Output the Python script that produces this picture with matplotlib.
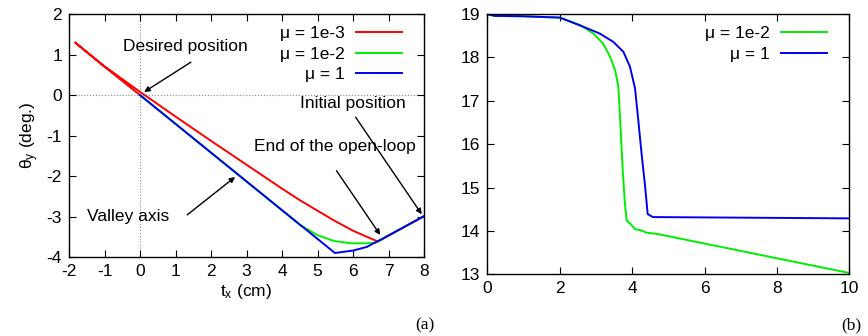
import matplotlib
matplotlib.use("Agg")
import matplotlib.pyplot as plt

plt.rcParams['font.family'] = ['Liberation Sans', 'DejaVu Sans']
plt.rcParams['mathtext.fontset'] = 'custom'
plt.rcParams['mathtext.rm'] = 'Liberation Sans'
plt.rcParams['mathtext.it'] = 'Liberation Sans'
plt.rcParams['axes.unicode_minus'] = False

# Panel (a): trajectories in (t_x, theta_y)
red_x = [8.0, 6.81, 6.71, 6.39, 6.0, 5.45, 4.51, 4.0, 3.0, 2.0, 1.0, 0.0, -1.0, -1.83, -1.0, 0.0]
red_y = [-2.99, -3.56, -3.62, -3.5, -3.35, -3.09, -2.6, -2.31, -1.72, -1.13, -0.53, 0.08, 0.71, 1.30, 0.70, 0.0]
green_x = [8.0, 6.81, 6.62, 6.39, 5.92, 5.45, 5.0, 4.51, 0.0]
green_y = [-2.99, -3.56, -3.65, -3.66, -3.66, -3.6, -3.46, -3.21, 0.0]
blue_x = [8.0, 6.81, 6.67, 6.39, 6.0, 5.49, 0.0]
blue_y = [-2.99, -3.56, -3.62, -3.75, -3.84, -3.9, 0.0]
labels_a = ['μ = 1e-3', 'μ = 1e-2', 'μ = 1']

# Panel (b)
g2_x = [0.0, 0.2, 1.0, 2.0, 2.56, 2.93, 3.20, 3.39, 3.53, 3.62, 3.67, 3.74, 3.80, 3.85, 3.96, 4.08, 4.22, 4.40, 4.7, 10.0]
g2_y = [19.0, 18.96, 18.95, 18.92, 18.75, 18.55, 18.32, 18.02, 17.71, 17.33, 16.56, 15.41, 14.64, 14.24, 14.16, 14.04, 14.02, 13.96, 13.93, 13.03]
b2_x = [0.0, 0.2, 1.0, 2.0, 2.65, 3.11, 3.48, 3.76, 3.94, 4.08, 4.17, 4.26, 4.36, 4.43, 4.57, 10.0]
b2_y = [19.0, 18.96, 18.95, 18.92, 18.71, 18.55, 18.36, 18.13, 17.79, 17.29, 16.56, 15.79, 15.02, 14.39, 14.32, 14.29]
labels_b = ['μ = 1e-2', 'μ = 1']

RED, GREEN, BLUE = '#ff0000', '#00ee00', '#0000ee'
FS = 12.5

fig = plt.figure(figsize=(8.68, 3.36), dpi=100)
ax1 = fig.add_axes([0.0795, 0.235, 0.409, 0.723])
ax2 = fig.add_axes([0.5614, 0.1836, 0.4171, 0.7744])

def style(ax):
    ax.tick_params(direction='in', top=True, right=True, labelsize=FS, length=5, width=0.8, pad=5)
    for s in ax.spines.values():
        s.set_linewidth(1.0)

ax1.axhline(0, color='#888888', lw=0.8, ls=':', zorder=0)
ax1.axvline(0, color='#888888', lw=0.8, ls=':', zorder=0)
ax1.plot(red_x, red_y, color=RED, lw=1.4, label=labels_a[0])
ax1.plot(green_x, green_y, color=GREEN, lw=1.4, label=labels_a[1])
ax1.plot(blue_x, blue_y, color=BLUE, lw=1.4, label=labels_a[2])
ax1.set_xlim(-2, 8)
ax1.set_ylim(-4, 2)
ax1.set_xticks(range(-2, 9))
ax1.set_yticks(range(-4, 3))
style(ax1)
ax1.set_xlabel('t$_\\mathregular{x}$ (cm)', fontsize=FS, labelpad=2)
ax1.set_ylabel('θ$_\\mathregular{y}$ (deg.)', fontsize=FS, labelpad=4)
leg_kw = dict(loc='upper right', frameon=False, markerfirst=False, fontsize=FS,
              handlelength=2.65, labelspacing=0.3, borderaxespad=0.3, handletextpad=0.65)
ax1.legend(bbox_to_anchor=(0.971, 1.0), **leg_kw)

arrow = dict(arrowstyle='-|>', color='black', lw=1.0, mutation_scale=8)
ax1.annotate('', xy=(0.05, 0.04), xytext=(1.5, 0.85), arrowprops=arrow)
ax1.text(-0.48, 1.2, 'Desired position', fontsize=FS, va='center', ha='left')
ax1.annotate('', xy=(2.74, -1.98), xytext=(1.27, -3.0), arrowprops=arrow)
ax1.text(-1.5, -3.0, 'Valley axis', fontsize=FS, va='center', ha='left')
ax1.annotate('', xy=(7.98, -3.0), xytext=(6.03, -0.49), arrowprops=arrow)
ax1.text(4.5, -0.2, 'Initial position', fontsize=FS, va='center', ha='left')
ax1.annotate('', xy=(6.81, -3.51), xytext=(5.49, -1.81), arrowprops=arrow)
ax1.text(3.2, -1.28, 'End of the open-loop', fontsize=FS, va='center', ha='left')

ax2.plot(g2_x, g2_y, color=GREEN, lw=1.4, label=labels_b[0])
ax2.plot(b2_x, b2_y, color=BLUE, lw=1.4, label=labels_b[1])
ax2.set_xlim(0, 10)
ax2.set_ylim(13, 19)
ax2.set_xticks(range(0, 11, 2))
ax2.set_yticks(range(13, 20))
style(ax2)
ax2.legend(bbox_to_anchor=(0.971, 1.0), **leg_kw)

fig.text(425 / 868, 1 - 325 / 336, '(a)', fontsize=FS, family=['Liberation Serif'], ha='center', va='center')
fig.text(851 / 868, 1 - 325 / 336, '(b)', fontsize=FS, family=['Liberation Serif'], ha='center', va='center')

fig.savefig('out.png', dpi=100)
